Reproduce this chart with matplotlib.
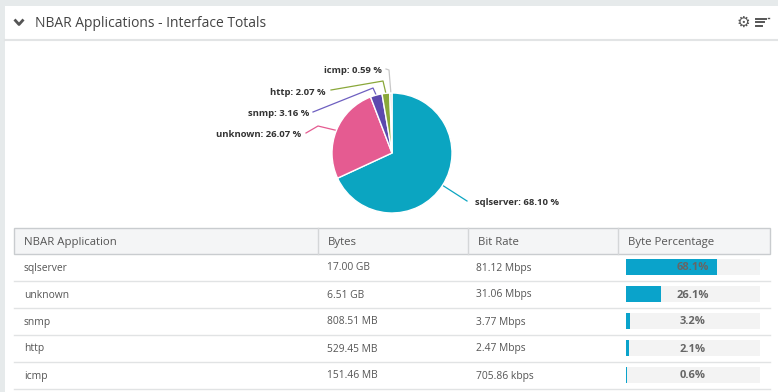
import matplotlib.pyplot as plt
import matplotlib
from matplotlib.patches import Rectangle
import numpy as np

matplotlib.rcParams["font.family"] = ["Open Sans", "DejaVu Sans"]

# data
apps = ["sqlserver", "unknown", "snmp", "http", "icmp"]
pct = [68.10, 26.07, 3.16, 2.07, 0.59]
bytes_lbl = ["17.00 GB", "6.51 GB", "808.51 MB", "529.45 MB", "151.46 MB"]
rate_lbl = ["81.12 Mbps", "31.06 Mbps", "3.77 Mbps", "2.47 Mbps", "705.86 kbps"]
columns = ["NBAR Application", "Bytes", "Bit Rate", "Byte Percentage"]
colors = ["#0ba5c1", "#e55b91", "#5c49ae", "#8aa83a", "#d8d8d8"]
line_colors = ["#0ba5c1", "#e55b91", "#6e5fc0", "#8aa83a", "#c8c8c8"]

W, H = 778, 392
fig = plt.figure(figsize=(W / 100, H / 100), dpi=100, facecolor="#e6eaeb")
ax = fig.add_axes([0, 0, 1, 1])
ax.set_xlim(0, W)
ax.set_ylim(H, 0)
ax.axis("off")

# panel
ax.add_patch(Rectangle((5, 6), W - 5, H - 6, facecolor="white", edgecolor="none"))
ax.plot([5, W], [39.5, 39.5], color="#e2e4e5", lw=1.5)
ax.plot([14.5, 19, 23.5], [19.5, 24.5, 19.5], color="#555555", lw=2, solid_capstyle="butt")
ax.text(35, 23, "NBAR Applications - Interface Totals", fontsize=10, color="#444444", va="center")
ax.text(743, 22.5, "\u2699", fontsize=11, color="#555555", va="center", ha="center", family="DejaVu Sans")
for y, x1 in [(18.5, 766), (22, 764), (25.5, 762)]:
    ax.plot([756, x1], [y, y], color="#555555", lw=1.4)
ax.plot([768, 769], [17.5, 17.5], color="#555555", lw=1)

# pie
cx, cy, r = 392, 153, 60
pax = fig.add_axes([(cx - r) / W, (H - cy - r) / H, 2 * r / W, 2 * r / H])
wedges, _ = pax.pie(pct, colors=colors, startangle=90, counterclock=False,
                    wedgeprops=dict(edgecolor="white", linewidth=1))
pax.set_xlim(-1, 1)
pax.set_ylim(-1, 1)
pax.axis("off")

# label layout (pixels): elbow points and text anchor
elbows = [[(467, 201)], [(318, 126), (306, 133)], [(373, 88), (313, 112)],
          [(383, 81), (331, 90)], [(389, 70), (386, 69)]]
text_pos = [(475, 202.5, "left"), (301, 134.5, "right"), (309, 113.5, "right"),
            (326, 92.5, "right"), (382, 70.5, "right")]
for i, w in enumerate(wedges):
    mid = np.deg2rad((w.theta1 + w.theta2) / 2)
    sx, sy = cx + r * np.cos(mid), cy - r * np.sin(mid)
    xs = [sx] + [p[0] for p in elbows[i]]
    ys = [sy] + [p[1] for p in elbows[i]]
    ax.plot(xs, ys, color=line_colors[i], lw=0.9)
    tx, ty, ha = text_pos[i]
    ax.text(tx, ty, f"{apps[i]}: {pct[i]:.2f} %", fontsize=6.8, fontweight="bold",
            color="#333333", ha=ha, va="center")

# table
left, right = 14, 770
col_x = [14, 318, 468, 618]
ax.add_patch(Rectangle((left, 227.5), right - left, 26, facecolor="#f4f5f6",
                       edgecolor="#c9cccf", lw=1))
for x in col_x[1:]:
    ax.plot([x, x], [227.5, 253.5], color="#d4d6d8", lw=1)
for j, c in enumerate(columns):
    ax.text(col_x[j] + 10, 242, c, fontsize=8.2, color="#555555", va="center")

row_h = 27
bar_x0, bar_w, bar_h = 626, 134, 16
for i in range(len(apps)):
    yc = 267 + i * row_h
    ax.plot([left, right], [yc + 13.5, yc + 13.5], color="#e1e3e4", lw=1)
    ax.text(col_x[0] + 10, yc + 1, apps[i], fontsize=7.4, color="#555555", va="center")
    ax.text(col_x[1] + 9, yc + 1, bytes_lbl[i], fontsize=7.4, color="#555555", va="center")
    ax.text(col_x[2] + 8, yc + 1, rate_lbl[i], fontsize=7.4, color="#555555", va="center")
    ax.barh(yc, bar_w, height=bar_h, left=bar_x0, color="#f3f3f3")
    ax.barh(yc, bar_w * pct[i] / 100, height=bar_h, left=bar_x0, color="#0aa3cb")
    ax.text(bar_x0 + bar_w / 2, yc + 1, f"{pct[i]:.1f}%", fontsize=8, fontweight="bold",
            color="#666666", ha="center", va="center")

fig.savefig("out.png", dpi=100, facecolor=fig.get_facecolor())
